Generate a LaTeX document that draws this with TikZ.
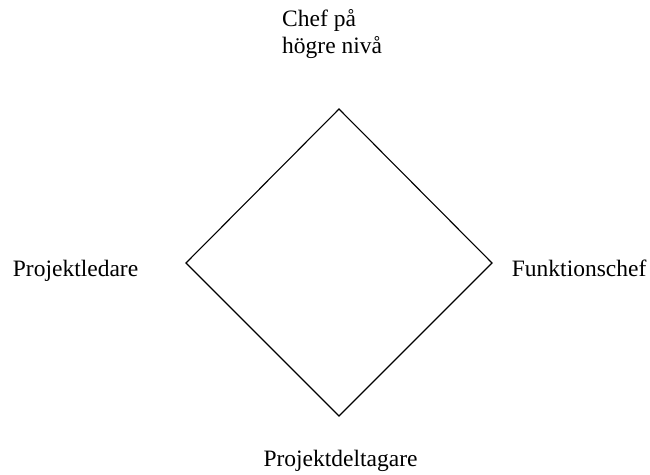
\documentclass[tikz,border=0pt]{standalone}
\usepackage{fontspec}
\setmainfont{Liberation Serif}
\begin{document}
\begin{tikzpicture}[x=1pt,y=-1pt,
  label/.style={inner sep=0pt,anchor=base west,font=\fontsize{23.5}{27}\selectfont},
  edge/.style={line width=1.1pt,line join=miter}]
\useasboundingbox (0,0) rectangle (650,474);
% corners of the diamond
\coordinate (top) at (339,109);
\coordinate (right) at (492,263);
\coordinate (bottom) at (339,416);
\coordinate (left) at (186,263);
\draw[edge] (top) -- (right) -- (bottom) -- (left) -- cycle;
% role labels (the two-line label is placed by its last baseline)
\node[label,align=left] (chef) at (282,53.5) {Chef på\\högre nivå};
\node[label] (pl) at (12.7,276) {Projektledare};
\node[label] (fc) at (511.7,276) {Funktionschef};
\node[label] (pd) at (263.3,466.7) {Projektdeltagare};
\end{tikzpicture}
\end{document}
